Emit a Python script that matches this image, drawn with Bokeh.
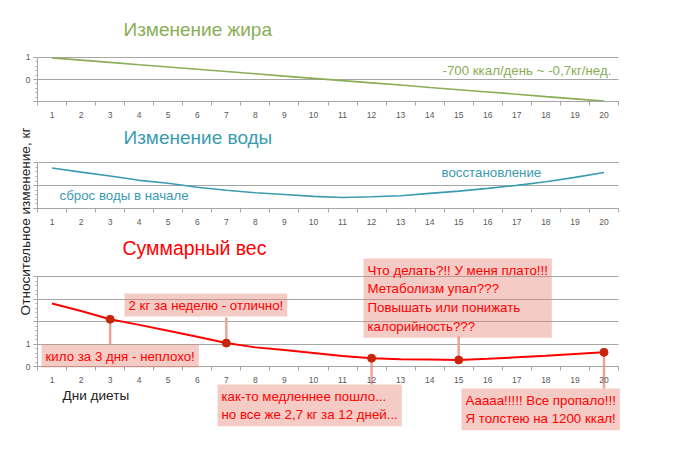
from math import pi
from bokeh.plotting import figure
from bokeh.models import Range1d, LinearAxis, FixedTicker, Grid, Label, ColumnDataSource
from bokeh.embed import file_html
from bokeh.resources import INLINE

# ---------------- data ----------------
days = list(range(1, 21))
fat_change = [0.97, 0.87, 0.77, 0.66, 0.56, 0.46, 0.36, 0.26, 0.15, 0.05,
              -0.05, -0.15, -0.25, -0.36, -0.46, -0.56, -0.66, -0.77, -0.87, -0.97]
water_change = [1.77, 1.59, 1.42, 1.23, 1.10, 0.93, 0.80, 0.69, 0.61, 0.53,
                0.48, 0.51, 0.56, 0.66, 0.76, 0.88, 1.01, 1.17, 1.36, 1.57]
total_change = [2.80, 2.47, 2.10, 1.85, 1.59, 1.32, 1.04, 0.85, 0.73, 0.60,
                0.47, 0.37, 0.32, 0.31, 0.29, 0.34, 0.41, 0.48, 0.56, 0.63]
fat_ticks = [-1, 0, 1]
water_ticks = [0, 1, 2]
total_ticks = [0, 1, 2, 3, 4]
fat_tick_labels = {-1: "", 0: "0", 1: "1"}
water_tick_labels = {0: "", 1: "", 2: ""}
total_tick_labels = {0: "0", 1: "1", 2: "", 3: "", 4: ""}
callout_days = [3, 7, 12, 15, 20]
callout_texts = [
    "кило за 3 дня - неплохо!",
    "2 кг за неделю - отлично!",
    "как-то медленнее пошло...\nно все же 2,7 кг за 12 дней...",
    "Что делать?!! У меня плато!!!\nМетаболизм упал???\nПовышать или понижать\nкалорийность???",
    "Ааааа!!!!! Все пропало!!!\nЯ толстею на 1200 ккал!",
]
title_fat = "Изменение жира"
title_water = "Изменение воды"
title_total = "Суммарный вес"
note_fat = "-700 ккал/день ~ -0,7кг/нед."
note_water_start = "сброс воды в начале"
note_water_end = "восстановление"
y_title = "Относительное изменение, кг"
x_title = "Дни диеты"

# ---------------- layout / style ----------------
W, H = 664, 434
PL, PR = 37.0, 618.0                # page px of day 0.5 and day 20.5
DAY_PX = (PR - PL) / 20.0
GREEN = "#8aae55"
TEAL = "#3b9bb1"
RED = "#ff0000"
MARK = "#c8260c"
GRIDC = "#a6a6a6"
TICKC = "#595959"
FONT = "Liberation Sans"
NOTE_SIZE = "13.3px"

# panel scales: (page px of value 0, px per unit)
PANELS = {"fat": (79.0, 22.25), "water": (208.0, 22.9), "total": (366.0, 22.5)}


def panel_range(name):
    z, u = PANELS[name]
    return Range1d(start=(z - H) / u, end=z / u)


def px_to_val(name, px):
    z, u = PANELS[name]
    return (z - px) / u


p = figure(width=W, height=H, output_backend="svg", toolbar_location=None,
           x_range=Range1d(0.5 - PL / DAY_PX, 20.5 + (W - PR) / DAY_PX),
           y_range=Range1d(H, 0),
           x_axis_location=None, y_axis_location=None,
           min_border_left=0, min_border_right=0, min_border_top=0, min_border_bottom=0)
p.center = [r for r in p.center if not isinstance(r, Grid)]
p.outline_line_color = None
p.background_fill_color = "white"
p.border_fill_color = "white"
p.extra_x_ranges = {"px": Range1d(0, W)}
p.extra_y_ranges = {k: panel_range(k) for k in PANELS}

minor_x = [d - 0.5 for d in days] + [days[-1] + 0.5]
x_bounds = (days[0] - 0.5, days[-1] + 0.5)
HAS_CROSS = "cross_bounds" in Grid.properties()


def add_axes(name, ticks, labels, grid_ticks):
    lo, hi = ticks[0], ticks[-1]
    xa = LinearAxis(y_range_name=name, fixed_location=lo, bounds=x_bounds,
                    ticker=FixedTicker(ticks=days, minor_ticks=minor_x),
                    axis_line_color=GRIDC, major_tick_out=0, major_tick_in=0,
                    minor_tick_out=4, minor_tick_in=0, minor_tick_line_color=GRIDC,
                    major_label_standoff=6, major_label_text_font_size="8.5px",
                    major_label_text_color=TICKC, major_label_text_font=FONT)
    p.add_layout(xa, "below")
    step = 0.2
    n = int(round((hi - lo) / step))
    ya = LinearAxis(y_range_name=name, fixed_location=x_bounds[0], bounds=(lo, hi),
                    ticker=FixedTicker(ticks=ticks, minor_ticks=[lo + i * step for i in range(n + 1)]),
                    axis_line_color=GRIDC, major_tick_out=4, major_tick_in=0,
                    major_tick_line_color=GRIDC, minor_tick_out=2, minor_tick_in=0,
                    minor_tick_line_color=GRIDC, major_label_overrides=labels,
                    major_label_standoff=3, major_label_text_font_size="8.5px",
                    major_label_text_color=TICKC, major_label_text_font=FONT)
    p.add_layout(ya, "left")
    if HAS_CROSS:
        g = Grid(dimension=1, y_range_name=name, ticker=FixedTicker(ticks=grid_ticks),
                 grid_line_color=GRIDC, grid_line_width=1, cross_bounds=x_bounds)
        p.add_layout(g)
    else:
        p.segment(x0=[x_bounds[0]] * len(grid_ticks), x1=[x_bounds[1]] * len(grid_ticks),
                  y0=grid_ticks, y1=grid_ticks, y_range_name=name,
                  line_color=GRIDC, line_width=1, level="underlay")


add_axes("fat", fat_ticks, fat_tick_labels, fat_ticks[1:])
add_axes("water", water_ticks, water_tick_labels, water_ticks[1:])
add_axes("total", total_ticks, total_tick_labels, total_ticks[1:])

src = ColumnDataSource(dict(day=days, fat=fat_change, water=water_change, total=total_change))
p.line("day", "fat", source=src, y_range_name="fat", line_color=GREEN, line_width=1.6)
p.line("day", "water", source=src, y_range_name="water", line_color=TEAL, line_width=1.6)

# callout boxes: (left px, top px, connector end px)
CALLOUT_POS = [(41, 344, 344), (124, 293, 317), (217, 384, 384), (363, 258, 336), (461, 388, 388)]

mk = ColumnDataSource(dict(
    day=callout_days,
    total=[total_change[days.index(d)] for d in callout_days],
    edge=[px_to_val("total", c[2]) for c in CALLOUT_POS],
))
p.segment(x0="day", y0="total", x1="day", y1="edge", source=mk, y_range_name="total",
          line_color="#eea396", line_width=2.5)
p.line("day", "total", source=src, y_range_name="total", line_color=RED, line_width=2)
p.scatter("day", "total", source=mk, y_range_name="total", size=8,
          fill_color=MARK, line_color=MARK)

for (lx, ty, _), txt in zip(CALLOUT_POS, callout_texts):
    p.add_layout(Label(x=lx, y=ty, x_range_name="px", text=txt, text_align="left",
                       text_baseline="top", text_font=FONT, text_font_size=NOTE_SIZE,
                       text_color=RED, text_line_height=1.25, padding=4,
                       background_fill_color="#e67e6e", background_fill_alpha=0.4))


def txt_label(x, y, text, color, size, align="left", angle=0):
    p.add_layout(Label(x=x, y=y, x_range_name="px", text=text, text_align=align,
                       text_baseline="middle", text_font=FONT, text_font_size=size,
                       text_color=color, angle=angle))


txt_label(123, 29, title_fat, GREEN, "19px")
txt_label(442, 70, note_fat, GREEN, NOTE_SIZE)
txt_label(123, 137, title_water, TEAL, "19px")
txt_label(59, 195, note_water_start, TEAL, NOTE_SIZE)
txt_label(441, 172, note_water_end, TEAL, NOTE_SIZE)
txt_label(122, 247, title_total, RED, "19.5px")
txt_label(62, 395, x_title, "#222222", "13.6px")
txt_label(25, 221, y_title, "#222222", "13.6px", align="center", angle=pi / 2)

open("out.html", "w").write(file_html(p, INLINE))
